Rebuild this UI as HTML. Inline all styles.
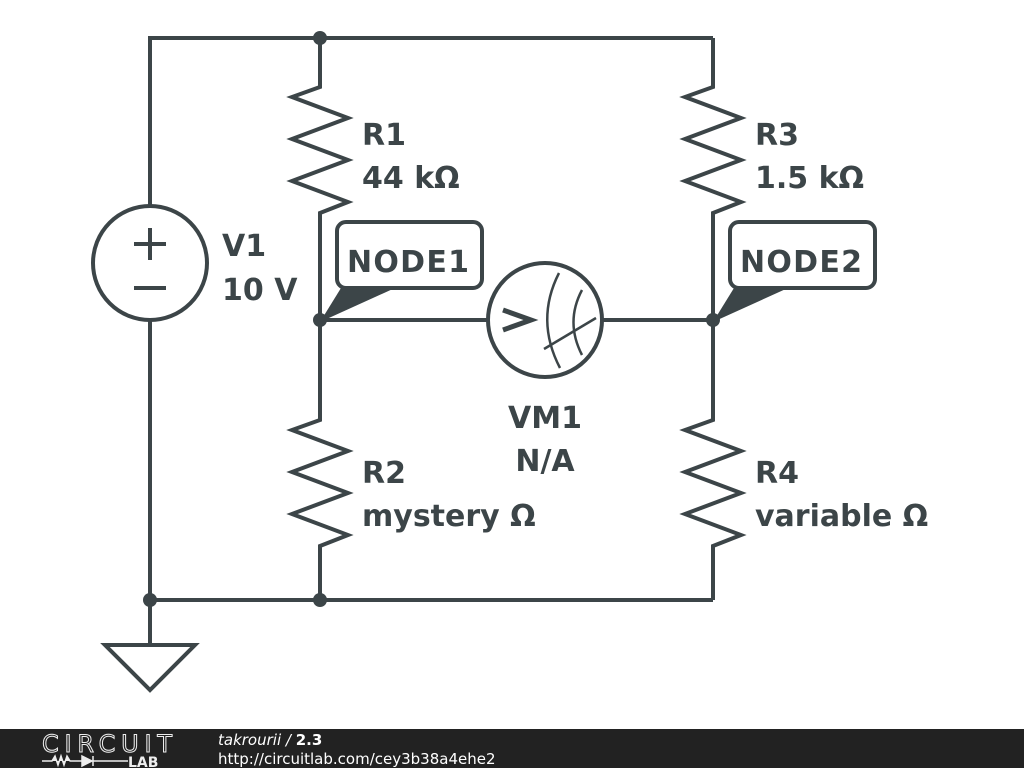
<!DOCTYPE html>
<html><head><meta charset="utf-8"><style>
html,body{margin:0;padding:0;background:#fff;}
svg{display:block;}
text{font-family:"DejaVu Sans","Liberation Sans",sans-serif;font-weight:bold;fill:#3c4548;}
</style></head><body>
<svg width="1024" height="768" viewBox="0 0 1024 768" xmlns="http://www.w3.org/2000/svg">
<g stroke="#3c4548" stroke-width="4" fill="none" stroke-linejoin="miter">
<path d="M150 206 V38 H713"/>
<path d="M150 320 V645"/>
<path d="M105 645 H195 L150 690 Z"/>
<path d="M150 600 H713"/>
<path d="M320 38 V87 L292 97 L348 118 L292 139 L348 160 L292 181 L348 202 L320 213 V420 L292 430 L348 451 L292 472 L348 493 L292 514 L348 535 L320 546 V600"/>
<path d="M713 38 V87 L685 97 L741 118 L685 139 L741 160 L685 181 L741 202 L713 213 V420 L685 430 L741 451 L685 472 L741 493 L685 514 L741 535 L713 546 V600"/>
<circle cx="150" cy="263" r="57"/>
<path d="M134 244 H166 M150 228 V260 M134 288 H166"/>
<path d="M320 320 H488 M602 320 H713"/>
<circle cx="545" cy="320" r="57"/>
<path d="M503 310 L531 320 L503 330" stroke-width="5"/>
<path d="M559 273 Q535 320 560 368" stroke-width="2.5"/>
<path d="M582 290 Q565 322 582 355" stroke-width="2.5"/>
<path d="M544 349 L596 318" stroke-width="2.5"/>
<rect x="337" y="222" width="145" height="66" rx="9"/>
<rect x="730" y="222" width="145" height="66" rx="9"/>
</g>
<g fill="#3c4548">
<circle cx="320" cy="38" r="7"/>
<circle cx="320" cy="320" r="7"/>
<circle cx="713" cy="320" r="7"/>
<circle cx="150" cy="600" r="7"/>
<circle cx="320" cy="600" r="7"/>
<path d="M341 288 L395 288 L320 322 Z"/>
<path d="M734 288 L788 288 L713 322 Z"/>
</g>
<g font-size="30">
<text x="362" y="145">R1</text>
<text x="362" y="188">44 kΩ</text>
<text x="755" y="145">R3</text>
<text x="755" y="188">1.5 kΩ</text>
<text x="222" y="256">V1</text>
<text x="222" y="300">10 V</text>
<text x="347" y="272" textLength="122">NODE1</text>
<text x="740" y="272" textLength="122">NODE2</text>
<text x="545" y="428" text-anchor="middle">VM1</text>
<text x="545" y="471" text-anchor="middle">N/A</text>
<text x="362" y="483">R2</text>
<text x="362" y="526">mystery Ω</text>
<text x="755" y="483">R4</text>
<text x="755" y="526">variable Ω</text>
</g>
<rect x="0" y="729" width="1024" height="39" fill="#222"/>
<text x="42" y="752" font-size="24" style="font-weight:normal;fill:none;stroke:#eee;stroke-width:1" textLength="130">CIRCUIT</text>
<path d="M42 761 H52 L55 756 L58 765 L61 756 L64 765 L67 756 L70 761 H82 M82 756 L92 761 L82 766 Z M93 756 V766 M93 761 H128" stroke="#eee" stroke-width="1.5" fill="#eee"/>
<text x="128" y="767" font-size="14" style="fill:#eee">LAB</text>
<text x="218" y="745" font-size="15" style="fill:#fff;font-weight:normal;font-style:italic">takrourii / <tspan style="font-weight:bold;font-style:normal">2.3</tspan></text>
<text x="218" y="764" font-size="15" style="fill:#fff;font-weight:normal">http://circuitlab.com/cey3b38a4ehe2</text>
</svg>
</body></html>
